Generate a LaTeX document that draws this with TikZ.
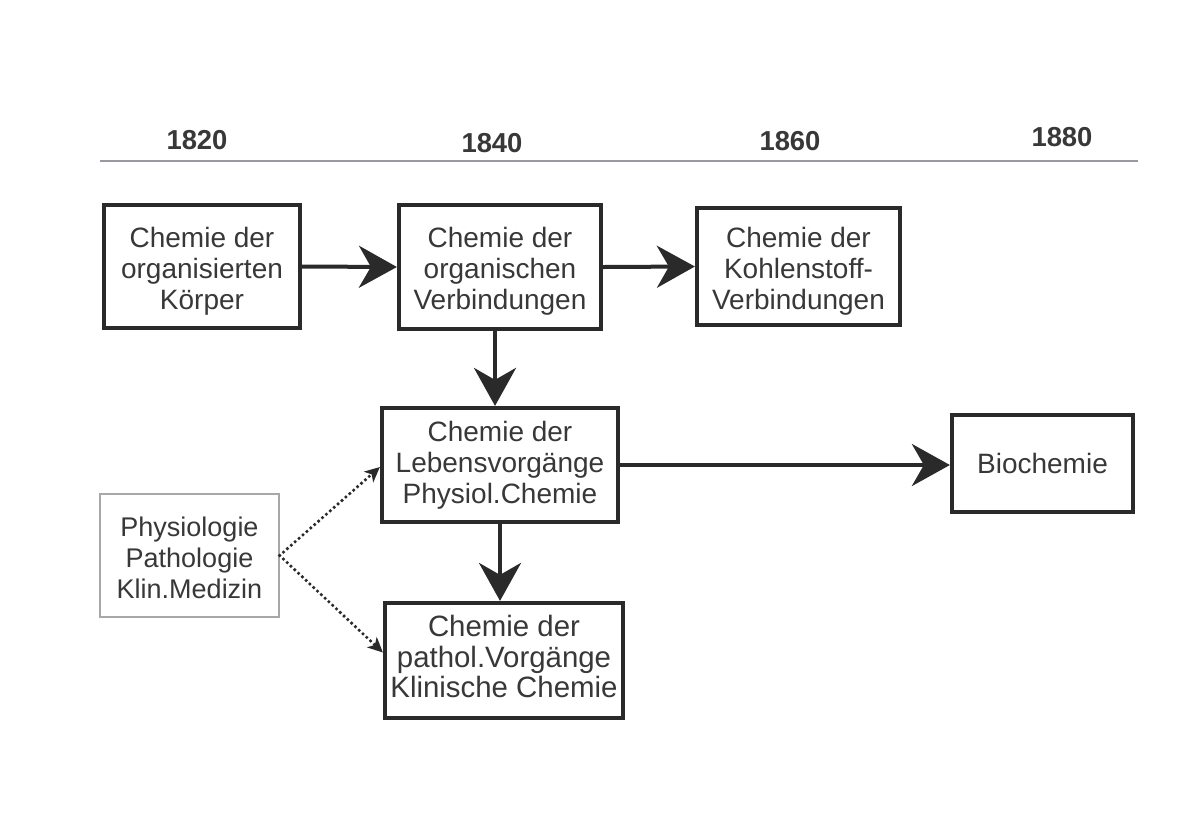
\documentclass[tikz,border=0pt]{standalone}
\usepackage{fontspec}
\setmainfont{Liberation Sans}
\usetikzlibrary{arrows.meta,calc}
\definecolor{ink}{HTML}{2A2A2A}
\definecolor{txt}{HTML}{383838}
\definecolor{rule}{HTML}{9A98A0}
\definecolor{thin}{HTML}{A8A8A8}
\newcommand{\toplift}[1]{\rule{0pt}{#1}}
\newcommand{\botlift}[1]{\rule[-#1]{0pt}{#1}}
\begin{document}
\begin{tikzpicture}[x=0.5pt,y=-0.5pt,
  box/.style={draw=ink,line width=2.1pt,fill=white,align=center,text=txt,
    font=\fontsize{14}{15.5}\selectfont,inner sep=0pt},
  thinbox/.style={draw=thin,line width=0.6pt,fill=white,align=center,text=txt,
    font=\fontsize{13.5}{15.5}\selectfont,inner sep=0pt},
  year/.style={text=txt,font=\fontsize{13.7}{16}\selectfont\bfseries},
  arr/.style={draw=ink,line width=2pt,-{Stealth[length=19pt,width=21pt,inset=6pt]}},
  dotarr/.style={draw=ink,line width=1.8pt,line cap=round,dash pattern=on 0pt off 2.6pt,
    -{Stealth[length=7.5pt,width=7pt,inset=2pt,line cap=butt]}}]
\useasboundingbox (0,0) rectangle (1201,832);
\fill[white] (0,0) rectangle (1201,832);
% timeline
\node[year] (y1820) at (197,140) {1820};
\node[year] (y1840) at (492,143) {1840};
\node[year] (y1860) at (790,141) {1860};
\node[year] (y1880) at (1062,137) {1880};
\coordinate (tl0) at (100,161);
\coordinate (tl1) at (1138,161);
\draw[rule,line width=0.8pt] (tl0) -- (tl1);
% boxes
\node[box,minimum width=98pt,minimum height=61.5pt] (b1) at (202,266.5)
  {\toplift{15pt}Chemie der\\organisierten\\Körper};
\node[box,minimum width=101pt,minimum height=62pt] (b2) at (500,267)
  {\toplift{14.8pt}Chemie der\\organischen\\Verbindungen};
\node[box,minimum width=101.5pt,minimum height=58.5pt] (b3) at (798.5,266.5)
  {\toplift{14.5pt}Chemie der\\Kohlenstoff-\\Verbindungen};
\node[box,minimum width=118pt,minimum height=57pt] (b4) at (500,465)
  {Chemie der\\Lebensvorgänge\\Physiol.Chemie};
\node[box,minimum width=90.5pt,minimum height=48.5pt] (b5) at (1042.5,463.5)
  {Biochemie};
\node[thinbox,minimum width=89.5pt,minimum height=61.5pt] (b6) at (189.5,555.5)
  {\toplift{12pt}Physiologie\\Pathologie\\Klin.Medizin};
\node[box,font=\fontsize{14.7}{15.3}\selectfont,minimum width=119pt,minimum height=57.5pt] (b7) at (504,660.5)
  {Chemie der\\pathol.Vorgänge\\Klinische Chemie\botlift{4pt}};
% arrows
\draw[arr] (b1.east) -- (b2.west);
\draw[arr] (b2.east) -- (b3.west);
\draw[arr] ([xshift=-2.5pt]b2.south) -- ([xshift=-2.5pt]b2.south |- b4.north);
\draw[arr] (b4.east) -- (b4.east -| b5.west);
\draw[arr] (b4.south) -- (b4.south |- b7.north);
\draw[dotarr] (b6.east) -- ([yshift=-1pt]b4.west);
\draw[dotarr] (b6.east) -- ([yshift=4pt]b7.west);
\end{tikzpicture}
\end{document}
